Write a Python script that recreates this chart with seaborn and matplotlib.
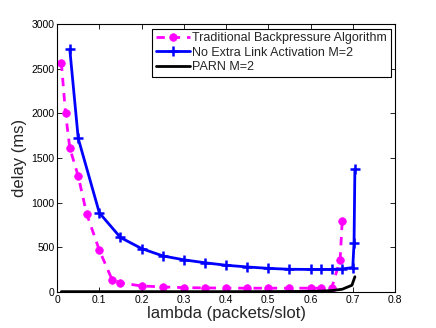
import matplotlib
matplotlib.use("Agg")
import matplotlib.pyplot as plt
import seaborn as sns
import pandas as pd

# Data
trad_x = [0.01, 0.02, 0.03, 0.05, 0.07, 0.10, 0.13, 0.15, 0.20, 0.25, 0.30, 0.35,
          0.40, 0.45, 0.50, 0.55, 0.60, 0.625, 0.65, 0.67, 0.675]
trad_y = [2570, 2000, 1614, 1297, 875, 467, 139, 101, 67, 56, 48, 45,
          43, 42, 42, 42, 42, 42, 42, 360, 795]

noext_x = [0.03, 0.05, 0.10, 0.15, 0.20, 0.25, 0.30, 0.35, 0.40, 0.45, 0.50, 0.55,
           0.60, 0.625, 0.65, 0.675, 0.70, 0.703, 0.705]
noext_y = [2720, 1720, 886, 610, 486, 404, 360, 327, 299, 280, 264, 254,
           252, 252, 252, 258, 273, 549, 1376]

parn_x = [0.01, 0.10, 0.20, 0.30, 0.40, 0.50, 0.60, 0.625, 0.65, 0.675, 0.698, 0.705]
parn_y = [3, 3, 3, 3, 3, 4, 6, 9, 15, 30, 75, 170]

labels = ["Traditional Backpressure Algorithm", "No Extra Link Activation M=2", "PARN M=2"]
xticks = [0, 0.1, 0.2, 0.3, 0.4, 0.5, 0.6, 0.7, 0.8]
yticks = [0, 500, 1000, 1500, 2000, 2500, 3000]

sns.set_theme(style="ticks")
plt.rcParams["font.family"] = ["Liberation Sans", "DejaVu Sans"]
plt.rcParams.update({
    "xtick.direction": "in", "ytick.direction": "in",
    "xtick.top": True, "ytick.right": True,
    "xtick.major.size": 3.5, "ytick.major.size": 3.5,
    "xtick.major.width": 0.6, "ytick.major.width": 0.6,
    "axes.edgecolor": "black", "axes.linewidth": 0.8,
})

fig = plt.figure(figsize=(4.36, 3.28), dpi=100)
ax = fig.add_axes([0.131, 0.110, 0.775, 0.816])

df_t = pd.DataFrame({"x": trad_x, "y": trad_y})
df_n = pd.DataFrame({"x": noext_x, "y": noext_y})
df_p = pd.DataFrame({"x": parn_x, "y": parn_y})

sns.lineplot(data=df_t, x="x", y="y", ax=ax, color="#ff00ff",
             marker="o", markersize=5.5, markeredgewidth=0.5,
             markeredgecolor="#ff00ff", markerfacecolor="#ff00ff",
             linewidth=2, sort=False, label=labels[0])
ax.lines[-1].set_linestyle((0, (3, 2.5)))
sns.lineplot(data=df_n, x="x", y="y", ax=ax, color="#0000ff", marker="+",
             markersize=7, markeredgewidth=1.8, markeredgecolor="#0000ff",
             linewidth=2, sort=False, label=labels[1])
sns.lineplot(data=df_p, x="x", y="y", ax=ax, color="black", linewidth=2,
             sort=False, label=labels[2])

ax.set_xlim(0, 0.8)
ax.set_ylim(0, 3000)
ax.set_xticks(xticks)
ax.set_xticklabels([("%g" % v) for v in xticks])
ax.set_yticks(yticks)
ax.set_yticklabels([str(v) for v in yticks])
ax.tick_params(labelsize=7.5, colors="black", pad=2)
ax.set_xlabel("lambda (packets/slot)", fontsize=12, labelpad=1)
ax.set_ylabel("delay (ms)", fontsize=12, labelpad=3)
for s in ax.spines.values():
    s.set_visible(True)
    s.set_color("black")

leg = ax.legend(loc="upper right", fontsize=9, frameon=True, fancybox=False,
                edgecolor="black", framealpha=1, borderaxespad=0.35,
                handlelength=2.7, handletextpad=0.2, labelspacing=0.18,
                borderpad=0.3)
leg.get_frame().set_linewidth(0.8)

fig.savefig("out.png", dpi=100)
